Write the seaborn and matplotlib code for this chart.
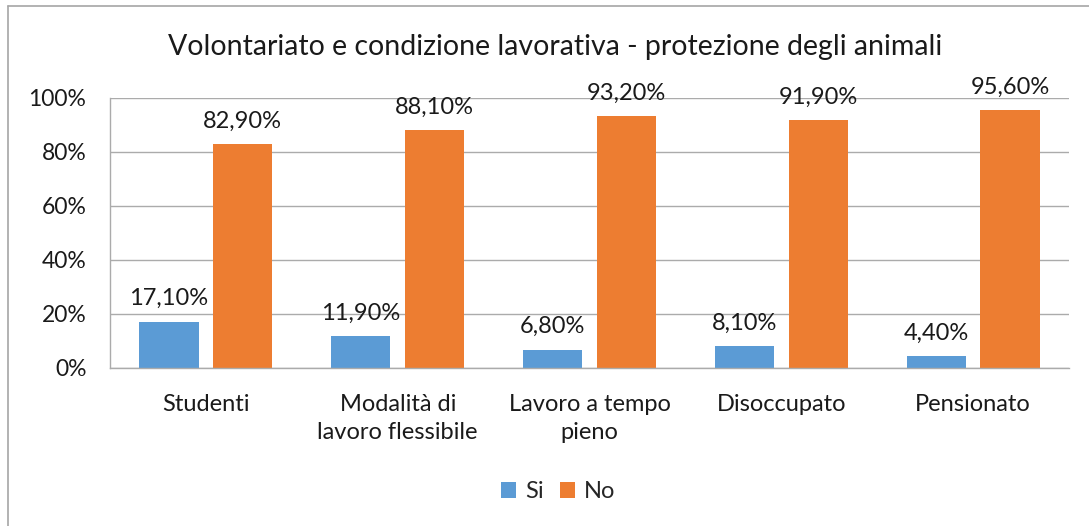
import matplotlib
matplotlib.use("Agg")
import matplotlib.pyplot as plt
import seaborn as sns
import pandas as pd
from matplotlib.lines import Line2D

categories = ["Studenti", "Modalità di\nlavoro flessibile", "Lavoro a tempo\npieno", "Disoccupato", "Pensionato"]
si_values = [17.10, 11.90, 6.80, 8.10, 4.40]
no_values = [82.90, 88.10, 93.20, 91.90, 95.60]
series_names = ["Si", "No"]
y_ticks = [0, 20, 40, 60, 80, 100]
title = "Volontariato e condizione lavorativa - protezione degli animali"

sns.set_theme(style="white")
plt.rcParams['font.family'] = ['Lato', 'DejaVu Sans']

df = pd.DataFrame({
    "cat": categories * 2,
    "val": si_values + no_values,
    "serie": [series_names[0]] * len(categories) + [series_names[1]] * len(categories),
})

fig = plt.figure(figsize=(10.89, 5.26), dpi=100)
ax = fig.add_axes([110/1089, 158/526, 959/1089, 270/526])

sns.barplot(data=df, x="cat", y="val", hue="serie", order=categories, hue_order=series_names,
            palette=["#5B9BD5", "#ED7D31"], width=0.77, gap=0.2, ax=ax, saturation=1,
            edgecolor="none", errorbar=None)

ax.set_ylim(0, 100)
ax.set_xlim(-0.5, len(categories) - 0.5)
ax.set_yticks(y_ticks)
ax.set_yticklabels([f"{t}%" for t in y_ticks], fontsize=16.5, color="#1a1a1a")
ax.tick_params(axis="x", labelsize=17, colors="#1a1a1a", length=0, pad=19)
ax.tick_params(axis="y", length=0, pad=17)
for lbl in ax.get_xticklabels():
    lbl.set_linespacing(1.4)
ax.set_xlabel("")
ax.set_ylabel("")
ax.yaxis.grid(True, color="#ababab", linewidth=1)
ax.set_axisbelow(True)
for s in ["top", "right"]:
    ax.spines[s].set_visible(False)
for s in ["left", "bottom"]:
    ax.spines[s].set_color("#ababab")
    ax.spines[s].set_linewidth(1)

for cont in ax.containers:
    ax.bar_label(cont, labels=[f"{v:.2f}".replace(".", ",") + "%" for v in cont.datavalues],
                 padding=9, fontsize=17, color="#1a1a1a")

fig.text(555/1089, 1 - 47/526, title, ha="center", va="center", fontsize=20.5, color="#1a1a1a")

leg = ax.legend(loc="center", bbox_to_anchor=(558/1089, 1 - 492/526), bbox_transform=fig.transFigure,
                ncol=2, frameon=False, fontsize=17, handlelength=0.65, handleheight=0.65,
                handletextpad=0.35, columnspacing=0.7)

fig.add_artist(Line2D([8/1089, 8/1089], [0, 1 - 6/526], transform=fig.transFigure, color="#a6a6a6", linewidth=1.2))
fig.add_artist(Line2D([8/1089, 1], [1 - 6/526, 1 - 6/526], transform=fig.transFigure, color="#a6a6a6", linewidth=1.2))

fig.savefig("out.png", dpi=100)
